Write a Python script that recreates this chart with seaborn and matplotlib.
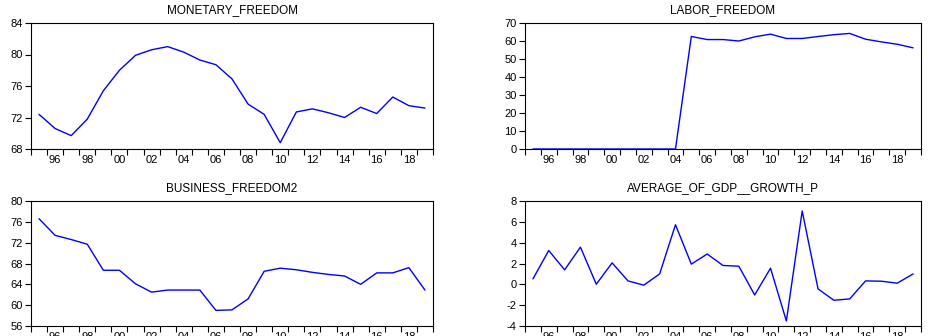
import numpy as np
import pandas as pd
import matplotlib
matplotlib.use("Agg")
import matplotlib.pyplot as plt
import seaborn as sns

sns.set_style("ticks")
plt.rcParams["font.family"] = ["Liberation Sans", "DejaVu Sans"]
plt.rcParams["text.color"] = "black"
plt.rcParams["xtick.color"] = "black"
plt.rcParams["ytick.color"] = "black"
plt.rcParams["axes.labelcolor"] = "black"

years = list(range(1995, 2020))

monetary_freedom = [72.4, 70.6, 69.7, 71.8, 75.4, 78.0, 79.9, 80.6, 81.0, 80.3,
                    79.3, 78.7, 76.9, 73.7, 72.4, 68.8, 72.7, 73.1, 72.6, 72.0,
                    73.3, 72.5, 74.6, 73.5, 73.2]
labor_freedom = [0, 0, 0, 0, 0, 0, 0, 0, 0, 0,
                 62.5, 60.8, 60.8, 60.0, 62.3, 63.8, 61.4, 61.4, 62.5, 63.5,
                 64.2, 61.0, 59.5, 58.2, 56.2]
business_freedom2 = [76.6, 73.4, 72.6, 71.7, 66.7, 66.7, 64.1, 62.5, 62.9, 62.9,
                     62.9, 59.0, 59.1, 61.2, 66.5, 67.1, 66.8, 66.3, 65.9, 65.6,
                     64.0, 66.2, 66.2, 67.2, 62.9]
gdp_growth = [0.52, 3.25, 1.39, 3.57, 0.01, 2.06, 0.33, -0.08, 1.0, 5.72,
              1.94, 2.91, 1.81, 1.74, -1.02, 1.55, -3.52, 7.04, -0.44, -1.53,
              -1.40, 0.33, 0.30, 0.11, 1.0]

panels = [
    ("MONETARY_FREEDOM", monetary_freedom, np.arange(68, 85, 4)),
    ("LABOR_FREEDOM", labor_freedom, np.arange(0, 71, 10)),
    ("BUSINESS_FREEDOM2", business_freedom2, np.arange(56, 81, 4)),
    ("AVERAGE_OF_GDP__GROWTH_P", gdp_growth, np.arange(-4, 9, 2)),
]

W, H = 932, 336
fig = plt.figure(figsize=(W / 100, H / 100), dpi=100)

# pixel boxes (left, top, right, bottom)
boxes = [
    (31, 23, 433, 149),
    (525, 23, 921, 149),
    (31, 201, 433, 326),
    (525, 201, 921, 326),
]

for (title, vals, yt), (l, t, r, b) in zip(panels, boxes):
    ax = fig.add_axes([l / W, 1 - b / H, (r - l) / W, (b - t) / H])
    df = pd.DataFrame({"year": years, "value": vals})
    sns.lineplot(data=df, x="year", y="value", ax=ax, color="#0000FF", linewidth=1.0)
    ax.set_xlim(1994.5, 2019.5)
    ax.set_ylim(yt[0], yt[-1])
    ax.set_yticks(yt)
    ax.set_yticklabels([str(v) for v in yt])
    even = [y for y in years if y % 2 == 0]
    ax.set_xticks(even)
    ax.set_xticklabels([f"{y % 100:02d}" for y in even])
    ax.set_xticks(np.arange(1994.5, 2020, 1), minor=True)
    ax.tick_params(axis="x", which="major", length=0, labelsize=8, pad=4)
    ax.tick_params(axis="x", which="minor", length=4, width=0.8, direction="out")
    ax.tick_params(axis="y", length=4, width=0.8, labelsize=8, pad=2)
    ax.set_xlabel("")
    ax.set_ylabel("")
    for s in ax.spines.values():
        s.set_visible(True)
        s.set_linewidth(0.8)
        s.set_color("black")
    ax.set_title(title, fontsize=8.5, pad=7)

fig.savefig("out.png", dpi=100)
